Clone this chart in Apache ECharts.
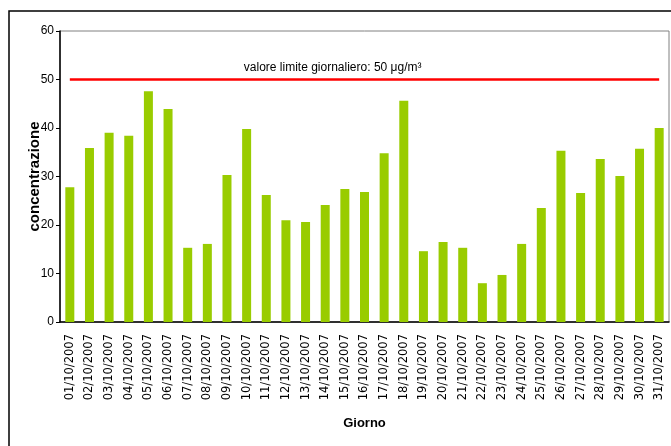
<!DOCTYPE html>
<html>
<head>
<meta charset="utf-8">
<script src="https://cdn.jsdelivr.net/npm/echarts@6/dist/echarts.min.js"></script>
<style>
  html, body { margin: 0; padding: 0; background: #fff; }
  #box { width: 671px; height: 446px; }
</style>
</head>
<body>
<div id="box"></div>
<script>
// giorni di ottobre 2007
var giorni = ['01/10/2007', '02/10/2007', '03/10/2007', '04/10/2007', '05/10/2007', '06/10/2007',
    '07/10/2007', '08/10/2007', '09/10/2007', '10/10/2007', '11/10/2007', '12/10/2007',
    '13/10/2007', '14/10/2007', '15/10/2007', '16/10/2007', '17/10/2007', '18/10/2007',
    '19/10/2007', '20/10/2007', '21/10/2007', '22/10/2007', '23/10/2007', '24/10/2007',
    '25/10/2007', '26/10/2007', '27/10/2007', '28/10/2007', '29/10/2007', '30/10/2007',
    '31/10/2007'];
// concentrazione giornaliera
var concentrazione = [27.8, 35.9, 39.0, 38.4, 47.6, 43.9, 15.3, 16.1, 30.3, 39.8, 26.2, 21.0,
    20.6, 24.1, 27.4, 26.8, 34.8, 45.6, 14.6, 16.5, 15.3, 8.0, 9.7, 16.1,
    23.5, 35.3, 26.6, 33.6, 30.1, 35.7, 40.0];
var limite = 50;
var yTicks = [0, 10, 20, 30, 40, 50, 60];

var font = "'Liberation Sans', Arial, sans-serif";
var myChart = echarts.init(document.getElementById('box'));

var option = {
    animation: false,
    backgroundColor: '#fff',
    grid: {
        left: 60, top: 31, right: 2, bottom: 124,
        show: true,
        borderColor: '#808080',
        borderWidth: 1,
        backgroundColor: '#fff'
    },
    graphic: [{
        type: 'rect',
        shape: { x: 9, y: 11, width: 720, height: 500 },
        style: { fill: 'none', stroke: '#000', lineWidth: 1.5 },
        z: -1
    }],
    xAxis: {
        type: 'category',
        data: giorni,
        name: 'Giorno',
        nameLocation: 'middle',
        nameGap: 95,
        nameMoveOverlap: false,
        nameTextStyle: { fontFamily: font, fontWeight: 'bold', fontSize: 13, color: '#000' },
        axisLine: { lineStyle: { color: '#000', width: 1.5 } },
        axisTick: { length: 4, lineStyle: { color: '#000' } },
        axisLabel: {
            rotate: 90,
            interval: 0,
            margin: 12,
            fontFamily: "'DejaVu Sans', sans-serif",
            fontSize: 11.5,
            color: '#000'
        }
    },
    yAxis: {
        type: 'value',
        min: yTicks[0],
        max: yTicks[yTicks.length - 1],
        interval: 10,
        name: 'concentrazione',
        nameLocation: 'middle',
        nameGap: 18,
        nameMoveOverlap: false,
        nameTextStyle: { fontFamily: font, fontWeight: 'bold', fontSize: 15, color: '#000' },
        axisLine: { show: true, lineStyle: { color: '#000', width: 1.5 } },
        axisTick: { show: true, length: 4, lineStyle: { color: '#000' } },
        axisLabel: { fontFamily: font, fontSize: 12, color: '#000', margin: 6 },
        splitLine: { show: false }
    },
    series: [{
        type: 'bar',
        data: concentrazione,
        barWidth: 9,
        itemStyle: { color: '#99cc00' },
        markLine: {
            silent: true,
            symbol: ['none', 'none'],
            lineStyle: { color: '#ff0000', width: 2.5, type: 'solid' },
            label: {
                show: true,
                position: 'insideStartTop',
                distance: [174, 6],
                formatter: 'valore limite giornaliero: 50 \u03bcg/m\u00b3',
                fontFamily: font,
                fontSize: 12,
                color: '#000'
            },
            data: [[
                { coord: [giorni[0], limite] },
                { coord: [giorni[giorni.length - 1], limite] }
            ]]
        }
    }]
};
myChart.setOption(option);
</script>
</body>
</html>
